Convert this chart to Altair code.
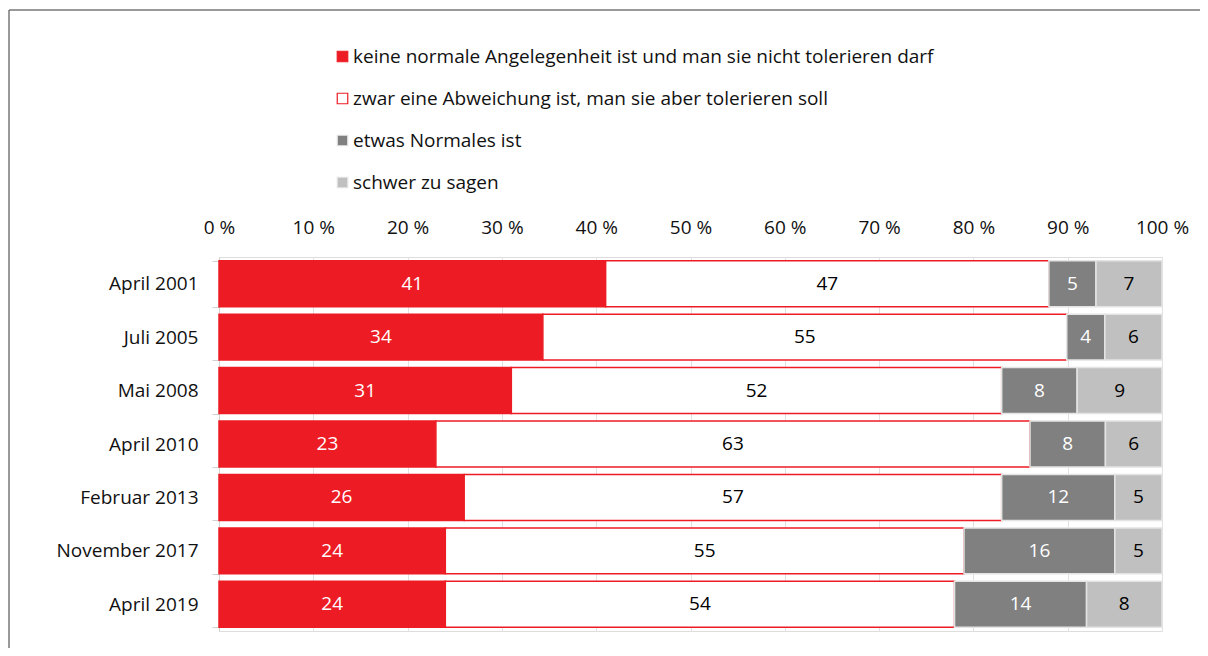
import altair as alt
import pandas as pd

dates = ["April 2001", "Juli 2005", "Mai 2008", "April 2010",
         "Februar 2013", "November 2017", "April 2019"]
categories = [
    "keine normale Angelegenheit ist und man sie nicht tolerieren darf",
    "zwar eine Abweichung ist, man sie aber tolerieren soll",
    "etwas Normales ist",
    "schwer zu sagen",
]
v_keine = [41, 34, 31, 23, 26, 24, 24]
v_zwar = [47, 55, 52, 63, 57, 55, 54]
v_normal = [5, 4, 8, 8, 12, 16, 14]
v_schwer = [7, 6, 9, 6, 5, 5, 8]
series = [v_keine, v_zwar, v_normal, v_schwer]

fills = ["#ED1C24", "#FFFFFF", "#808080", "#C0C0C0"]
strokes = ["#ED1C24", "#ED1C24", "#E4E4E4", "#E4E4E4"]
text_colors = ["white", "black", "white", "black"]
x_ticks = [0, 10, 20, 30, 40, 50, 60, 70, 80, 90, 100]

rows = []
for ci, cat in enumerate(categories):
    for di, d in enumerate(dates):
        rows.append({"date": d, "category": cat, "order": ci,
                     "value": series[ci][di], "tcolor": text_colors[ci]})
df = pd.DataFrame(rows)

FONT = "Open Sans"
FS = 19
W, H = 943, 374
PAD = {"left": 211, "top": 249, "right": 38, "bottom": 17}

base = alt.Chart(df).transform_joinaggregate(
    total="sum(value)", groupby=["date"]
).transform_window(
    cum="sum(value)", sort=[alt.SortField("order")], groupby=["date"],
    frame=[None, 0]
).transform_calculate(
    x_end="datum.cum / datum.total * 100",
    x_start="(datum.cum - datum.value) / datum.total * 100",
).transform_calculate(
    x_mid="(datum.x_start + datum.x_end) / 2"
)

yenc = alt.Y("date:N", sort=dates, title=None,
             scale=alt.Scale(paddingInner=0.14, paddingOuter=0.07),
             axis=alt.Axis(domain=True, domainColor="#D0D0D0", ticks=True,
                           tickColor="#D0D0D0", tickSize=7, tickBand="extent",
                           labelFontSize=FS, labelColor="#111111",
                           labelPadding=14, labelFont=FONT))

legend_props = dict(title=None, orient="none", legendX=114, legendY=-210,
                    direction="vertical", symbolType="square", symbolSize=110,
                    symbolStrokeWidth=1.2, labelFontSize=FS, labelFont=FONT,
                    labelColor="#111111", labelLimit=900, rowPadding=22,
                    labelOffset=1)

bars = base.mark_bar(strokeWidth=1.5).encode(
    x=alt.X("x_start:Q", title=None,
            scale=alt.Scale(domain=[0, 100], nice=False),
            axis=alt.Axis(orient="top", values=x_ticks, domain=False,
                          ticks=False, grid=True, gridColor="#E2E2E2",
                          labelExpr="datum.value + ' %'", labelFontSize=FS,
                          labelColor="#111111", labelPadding=20,
                          labelFlush=False, labelFont=FONT)),
    x2="x_end:Q",
    y=yenc,
    fill=alt.Fill("category:N", scale=alt.Scale(domain=categories, range=fills),
                  legend=alt.Legend(**legend_props)),
    stroke=alt.Stroke("category:N",
                      scale=alt.Scale(domain=categories, range=strokes),
                      legend=alt.Legend(**legend_props)),
)

texts = base.mark_text(fontSize=FS, font=FONT, baseline="middle").encode(
    x=alt.X("x_mid:Q"),
    y=alt.Y("date:N", sort=dates),
    text=alt.Text("value:Q"),
    color=alt.Color("tcolor:N", scale=None),
)

frame_df = pd.DataFrame({"k": [0]})
frame_left = alt.Chart(frame_df).mark_rule(color="#777777", strokeWidth=1.5).encode(
    x=alt.value(-210), y=alt.value(-247), y2=alt.value(H + PAD["bottom"] + 10)
)
frame_top = alt.Chart(frame_df).mark_rule(color="#777777", strokeWidth=1.5).encode(
    x=alt.value(-210), x2=alt.value(W + PAD["right"] + 10), y=alt.value(-247)
)

chart = alt.layer(bars, texts, frame_left, frame_top).properties(
    width=W, height=H,
    autosize=alt.AutoSizeParams(type="none"),
    padding=PAD,
).configure_view(stroke=None).configure(font=FONT)

chart.save("out.html", embed_options={"renderer": "svg", "actions": False})
